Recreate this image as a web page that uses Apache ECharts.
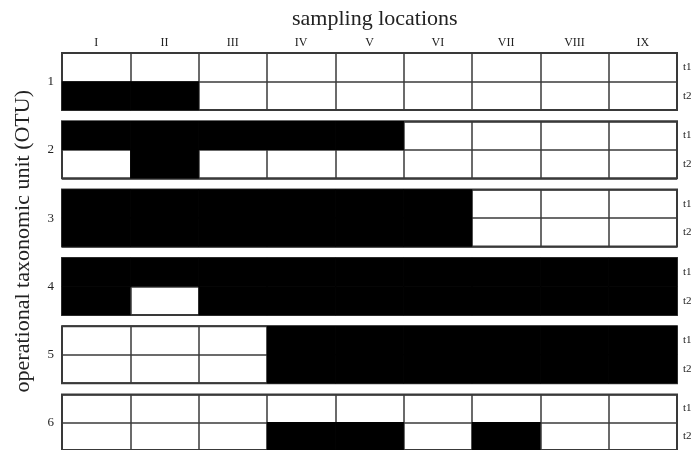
<!DOCTYPE html>
<html>
<head>
<meta charset="utf-8">
<script src="https://cdn.jsdelivr.net/npm/echarts@6/dist/echarts.min.js"></script>
<style>
  html, body { margin: 0; padding: 0; background: #fff; }
  #chart { width: 697px; height: 450px; }
</style>
</head>
<body>
<div id="chart"></div>
<script>
// sampling locations along the top, two sampling times per OTU
const locations = ['I', 'II', 'III', 'IV', 'V', 'VI', 'VII', 'VIII', 'IX'];
const times = ['t1', 't2'];
const otus = ['1', '2', '3', '4', '5', '6'];

// 1 = present (black), 0 = absent (white); first row t1, second row t2
const otu1 = [[0, 0, 0, 0, 0, 0, 0, 0, 0], [1, 1, 0, 0, 0, 0, 0, 0, 0]];
const otu2 = [[1, 1, 1, 1, 1, 0, 0, 0, 0], [0, 1, 0, 0, 0, 0, 0, 0, 0]];
const otu3 = [[1, 1, 1, 1, 1, 1, 0, 0, 0], [1, 1, 1, 1, 1, 1, 0, 0, 0]];
const otu4 = [[1, 1, 1, 1, 1, 1, 1, 1, 1], [1, 0, 1, 1, 1, 1, 1, 1, 1]];
const otu5 = [[0, 0, 0, 1, 1, 1, 1, 1, 1], [0, 0, 0, 1, 1, 1, 1, 1, 1]];
const otu6 = [[0, 0, 0, 0, 0, 0, 0, 0, 0], [0, 0, 0, 1, 1, 0, 1, 0, 0]];
const presence = [otu1, otu2, otu3, otu4, otu5, otu6];

const serif = '"Liberation Serif", "DejaVu Serif", serif';
const lineColor = '#3a3a3a';

let myChart = echarts.init(document.getElementById('chart'));

let grids = [], xAxes = [], yAxes = [], series = [];
presence.forEach((rows, i) => {
    grids.push({
        left: 62,
        right: 20,
        top: 53 + i * 68.3,
        height: 57,
        show: true,
        borderColor: lineColor,
        borderWidth: 2,
        backgroundColor: 'transparent'
    });
    xAxes.push({
        type: 'category',
        gridIndex: i,
        data: locations,
        position: 'top',
        axisLine: { show: false },
        axisTick: { show: false },
        axisLabel: {
            show: i === 0,
            margin: 4,
            fontFamily: serif,
            fontSize: 12,
            color: '#222'
        },
        splitLine: { show: true, lineStyle: { color: lineColor, width: 1.5 } }
    });
    // t1 / t2 on the right
    yAxes.push({
        type: 'category',
        gridIndex: i,
        data: times,
        inverse: true,
        position: 'right',
        axisLine: { show: false },
        axisTick: { show: false },
        axisLabel: { margin: 6, fontFamily: serif, fontSize: 11, color: '#222' },
        splitLine: { show: true, lineStyle: { color: lineColor, width: 1.5 } }
    });
    // OTU number on the left
    yAxes.push({
        type: 'category',
        gridIndex: i,
        data: [otus[i]],
        position: 'left',
        axisLine: { show: false },
        axisTick: { show: false },
        axisLabel: { margin: 8, fontFamily: serif, fontSize: 13, color: '#222' },
        splitLine: { show: false }
    });
    let cells = [];
    rows.forEach((row, r) => {
        row.forEach((v, c) => cells.push([c, r, v]));
    });
    series.push({
        type: 'heatmap',
        xAxisIndex: i,
        yAxisIndex: i * 2,
        data: cells,
        itemStyle: { borderWidth: 0 },
        emphasis: { disabled: true }
    });
});

let option = {
    animation: false,
    backgroundColor: '#fff',
    title: {
        text: 'sampling locations',
        left: 287,
        top: 3,
        textStyle: { fontFamily: serif, fontSize: 22, fontWeight: 'normal', color: '#222' }
    },
    graphic: [{
        type: 'text',
        left: 12,
        top: 90,
        rotation: Math.PI / 2,
        style: {
            text: 'operational taxonomic unit (OTU)',
            font: '22px ' + serif,
            fill: '#222'
        }
    }],
    visualMap: {
        show: false,
        type: 'piecewise',
        seriesIndex: series.map((s, i) => i),
        pieces: [
            { value: 0, color: 'rgba(255,255,255,0)' },
            { value: 1, color: '#000' }
        ]
    },
    grid: grids,
    xAxis: xAxes,
    yAxis: yAxes,
    series: series
};
option && myChart.setOption(option);
</script>
</body>
</html>
